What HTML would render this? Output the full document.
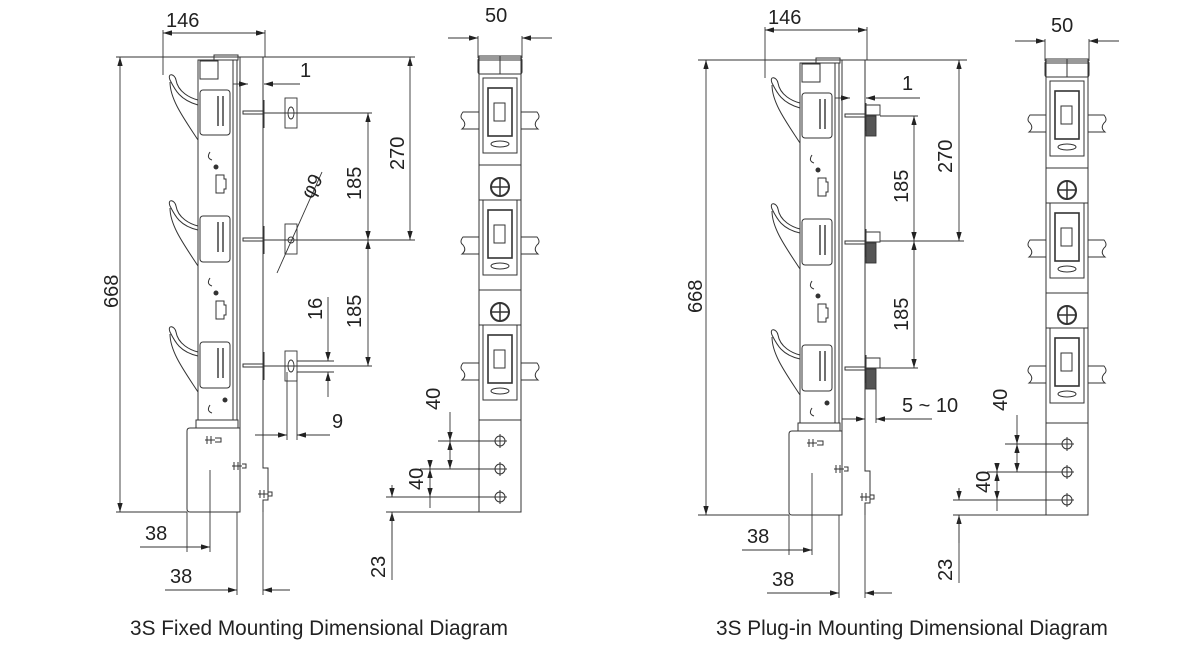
<!DOCTYPE html>
<html><head><meta charset="utf-8"><style>
html,body{margin:0;padding:0;background:#fff;width:1200px;height:654px;overflow:hidden}
svg{display:block}
text{font-family:"Liberation Sans",sans-serif;fill:#222}
</style></head><body>
<svg width="1200" height="654" viewBox="0 0 1200 654" xmlns="http://www.w3.org/2000/svg">
<defs>
<marker id="a" viewBox="0 0 10 6" refX="10" refY="3" markerWidth="10" markerHeight="6" orient="auto-start-reverse"><path d="M0,0 L10,3 L0,6 z" fill="#222"/></marker>
<g id="side" stroke="#333" stroke-width="1" fill="none">
  <rect x="198" y="60" width="39" height="360"/>
  <line x1="233" y1="60" x2="233" y2="420"/>
  <rect x="214" y="55" width="24" height="5"/>
  <polyline points="237,57 263,57 263,468 268,468 268,500 263,500 263,512"/>
  <line x1="240" y1="57" x2="240" y2="512"/>
  <rect x="200" y="61" width="18" height="18"/>
  <rect x="200" y="90" width="30" height="45" rx="3"/>
  <rect x="200" y="216" width="30" height="46" rx="3"/>
  <rect x="200" y="342" width="30" height="46" rx="3"/>
  <g stroke-width="1.4">
   <path d="M218,96 v30 M223,96 v30 M218,222 v30 M223,222 v30 M218,348 v30 M223,348 v30"/>
  </g>
  <path d="M216,175 h8 v4 h2 v10 h-2 v4 h-8 z"/>
  <path d="M216,301 h8 v4 h2 v10 h-2 v4 h-8 z"/>
  <circle cx="216" cy="167" r="2" fill="#333"/><circle cx="216" cy="293" r="2" fill="#333"/><circle cx="225" cy="400" r="2" fill="#333"/>
  <path d="M210,152 q-4,6 2,8 M210,278 q-4,6 2,8 M210,405 q-4,6 2,8"/>
  <path d="M198,105 C180,100 175,90 170,80 C167,72 175,74 176,80 C178,92 190,98 198,100"/>
  <path d="M170,82 C170,100 185,120 198,140"/>
  <path d="M198,230 C180,226 175,216 170,206 C167,198 175,200 176,206 C178,218 190,224 198,226"/>
  <path d="M170,208 C170,226 185,246 198,266"/>
  <path d="M198,356 C180,352 175,342 170,332 C167,324 175,326 176,332 C178,344 190,350 198,352"/>
  <path d="M170,334 C170,352 185,372 198,392"/>
  <path d="M190,428 h50 v84 h-50 q-3,0 -3,-3 v-78 q0,-3 3,-3 z"/>
  <rect x="196" y="420" width="42" height="8"/>
  <path d="M205,440 h10 M207,436 v8 M211,436 v8 M215,438 h6 v4 h-6"/>
  <path d="M232,466 h10 M234,462 v8 M238,462 v8 M242,464 h4 v4 h-4"/>
  <path d="M258,494 h10 M260,490 v8 M264,490 v8 M268,492 h4 v4 h-4"/>
  <rect x="243" y="111" width="20" height="3"/>
  <rect x="243" y="238" width="20" height="3"/>
  <rect x="243" y="364" width="20" height="3"/>
  <line x1="264" y1="100" x2="264" y2="128"/><line x1="264" y1="226" x2="264" y2="254"/><line x1="264" y1="352" x2="264" y2="380"/>
</g>
<g id="front" stroke="#333" stroke-width="1" fill="none">
  <rect x="479" y="60" width="42" height="452"/>
  <path d="M479,60 v-4 h42 v4 M500,56 v18"/>
  <rect x="478" y="58" width="44" height="16" rx="2"/>
  <rect x="483" y="78" width="34" height="75"/><rect x="488" y="88" width="24" height="48" stroke-width="1.6"/><rect x="494" y="103" width="11" height="18"/>
  <rect x="483" y="200" width="34" height="75"/><rect x="488" y="210" width="24" height="48" stroke-width="1.6"/><rect x="494" y="225" width="11" height="18"/>
  <rect x="483" y="325" width="34" height="75"/><rect x="488" y="335" width="24" height="48" stroke-width="1.6"/><rect x="494" y="350" width="11" height="18"/>
  <ellipse cx="500" cy="144" rx="9" ry="3"/><ellipse cx="500" cy="266" rx="9" ry="3"/><ellipse cx="500" cy="391" rx="9" ry="3"/>
  <line x1="479" y1="165" x2="521" y2="165"/><line x1="479" y1="200" x2="521" y2="200"/>
  <line x1="479" y1="290" x2="521" y2="290"/><line x1="479" y1="325" x2="521" y2="325"/>
  <circle cx="500" cy="187" r="9" stroke-width="2"/><path d="M500,179 v16 M492,187 h16" stroke-width="1.5"/>
  <circle cx="500" cy="312" r="9" stroke-width="2"/><path d="M500,304 v16 M492,312 h16" stroke-width="1.5"/>
  <path d="M479,112 h-16 q-4,5 0,8 q4,5 -1,9 h17"/><path d="M521,112 h16 q4,5 0,8 q-4,5 1,9 h-17"/>
  <path d="M479,237 h-16 q-4,5 0,8 q4,5 -1,9 h17"/><path d="M521,237 h16 q4,5 0,8 q-4,5 1,9 h-17"/>
  <path d="M479,363 h-16 q-4,5 0,8 q4,5 -1,9 h17"/><path d="M521,363 h16 q4,5 0,8 q-4,5 1,9 h-17"/>
  <circle cx="500" cy="441" r="5"/><circle cx="500" cy="469" r="5"/><circle cx="500" cy="497" r="5"/>
  <path d="M493,441 h14 M500,434 v14 M493,469 h14 M500,462 v14 M493,497 h14 M500,490 v14"/>
  <line x1="479" y1="420" x2="521" y2="420"/>
</g>
<g id="fdim" stroke="#333" stroke-width="0.9" fill="none">
  <line x1="478" y1="36" x2="478" y2="58"/><line x1="522" y1="36" x2="522" y2="58"/>
  <line x1="448" y1="38" x2="478" y2="38" marker-end="url(#a)"/><line x1="552" y1="38" x2="522" y2="38" marker-end="url(#a)"/>
  <line x1="438" y1="441" x2="495" y2="441"/><line x1="420" y1="469" x2="495" y2="469"/><line x1="386" y1="497" x2="495" y2="497"/><line x1="386" y1="512" x2="479" y2="512"/>
  <line x1="450" y1="412" x2="450" y2="441" marker-end="url(#a)"/><line x1="450" y1="441" x2="450" y2="469" marker-start="url(#a)" marker-end="url(#a)"/>
  <line x1="430" y1="460" x2="430" y2="469" marker-end="url(#a)"/><line x1="430" y1="469" x2="430" y2="497" marker-start="url(#a)" marker-end="url(#a)"/><line x1="430" y1="497" x2="430" y2="508"/>
  <line x1="392" y1="485" x2="392" y2="497" marker-end="url(#a)"/><line x1="392" y1="540" x2="392" y2="512" marker-end="url(#a)"/><line x1="392" y1="512" x2="392" y2="580"/>
</g>
</defs>

<use href="#side"/>
<use href="#front"/>
<use href="#fdim"/>
<g stroke="#333" stroke-width="0.9" fill="none">
  <line x1="163" y1="30" x2="163" y2="75"/><line x1="265" y1="30" x2="265" y2="57"/>
  <line x1="163" y1="33" x2="265" y2="33" marker-start="url(#a)" marker-end="url(#a)"/>
  <line x1="116" y1="57" x2="415" y2="57"/><line x1="116" y1="512" x2="187" y2="512"/>
  <line x1="120" y1="57" x2="120" y2="512" marker-start="url(#a)" marker-end="url(#a)"/>
  <line x1="233" y1="84" x2="248" y2="84" marker-end="url(#a)"/><line x1="282" y1="84" x2="264" y2="84" marker-end="url(#a)"/><line x1="282" y1="84" x2="300" y2="84"/>
  <rect x="285" y="98" width="12" height="30"/><ellipse cx="291" cy="113" rx="3" ry="6"/>
  <rect x="285" y="224" width="12" height="30"/><circle cx="291" cy="240" r="3"/>
  <rect x="285" y="351" width="12" height="30"/><ellipse cx="291" cy="366" rx="3" ry="6"/>
  <line x1="264" y1="113" x2="372" y2="113"/><line x1="264" y1="240" x2="415" y2="240"/><line x1="264" y1="366" x2="372" y2="366"/>
  <line x1="410" y1="57" x2="410" y2="240" marker-start="url(#a)" marker-end="url(#a)"/>
  <line x1="368" y1="113" x2="368" y2="240" marker-start="url(#a)" marker-end="url(#a)"/>
  <line x1="368" y1="240" x2="368" y2="366" marker-start="url(#a)" marker-end="url(#a)"/>
  <line x1="277" y1="273" x2="322" y2="172"/>
  <line x1="297" y1="361" x2="334" y2="361"/><line x1="297" y1="372" x2="334" y2="372"/>
  <line x1="328" y1="297" x2="328" y2="361" marker-end="url(#a)"/><line x1="328" y1="397" x2="328" y2="372" marker-end="url(#a)"/>
  <line x1="287" y1="372" x2="287" y2="440"/><line x1="297" y1="372" x2="297" y2="440"/>
  <line x1="255" y1="435" x2="287" y2="435" marker-end="url(#a)"/><line x1="330" y1="435" x2="297" y2="435" marker-end="url(#a)"/>
  <line x1="187" y1="512" x2="187" y2="552"/><line x1="210" y1="470" x2="210" y2="552"/><line x1="237" y1="512" x2="237" y2="595"/><line x1="263" y1="512" x2="263" y2="595"/>
  <line x1="140" y1="547" x2="187" y2="547"/><line x1="187" y1="547" x2="210" y2="547" marker-end="url(#a)"/>
  <line x1="165" y1="590" x2="237" y2="590" marker-end="url(#a)"/><line x1="290" y1="590" x2="263" y2="590" marker-end="url(#a)"/>
</g>
<g font-size="20">
  <text x="166" y="27">146</text>
  <text x="300" y="77">1</text>
  <text transform="translate(118,308) rotate(-90)">668</text>
  <text transform="translate(404,170) rotate(-90)">270</text>
  <text transform="translate(361,200) rotate(-90)">185</text>
  <text transform="translate(361,328) rotate(-90)">185</text>
  <text transform="translate(322,320) rotate(-90)">16</text>
  <text transform="translate(312,200) rotate(-62)">φ9</text>
  <text x="332" y="428">9</text>
  <text transform="translate(440,410) rotate(-90)">40</text>
  <text transform="translate(423,490) rotate(-90)">40</text>
  <text transform="translate(385,578) rotate(-90)">23</text>
  <text x="145" y="540">38</text>
  <text x="170" y="583">38</text>
  <text x="485" y="22">50</text>
  <text x="130" y="635" font-size="20.8">3S Fixed Mounting Dimensional Diagram</text>
</g>

<g transform="translate(602,3)">
  <use href="#side"/>
  <g stroke="#333" stroke-width="0.9" fill="none">
   <path d="M264,102 h14 v10 h-14"/><rect x="264" y="113" width="10" height="20" fill="#555"/>
   <path d="M264,229 h14 v10 h-14"/><rect x="264" y="240" width="10" height="20" fill="#555"/>
   <path d="M264,355 h14 v10 h-14"/><rect x="264" y="366" width="10" height="20" fill="#555"/>
   <line x1="163" y1="24" x2="163" y2="75"/><line x1="265" y1="24" x2="265" y2="57"/>
   <line x1="163" y1="27" x2="265" y2="27" marker-start="url(#a)" marker-end="url(#a)"/>
   <line x1="96" y1="57" x2="365" y2="57"/><line x1="96" y1="512" x2="187" y2="512"/>
   <line x1="104" y1="57" x2="104" y2="512" marker-start="url(#a)" marker-end="url(#a)"/>
   <line x1="233" y1="95" x2="248" y2="95" marker-end="url(#a)"/><line x1="282" y1="95" x2="264" y2="95" marker-end="url(#a)"/><line x1="282" y1="95" x2="318" y2="95"/>
   <line x1="278" y1="113" x2="316" y2="113"/><line x1="278" y1="238" x2="362" y2="238"/><line x1="278" y1="365" x2="316" y2="365"/>
   <line x1="357" y1="57" x2="357" y2="238" marker-start="url(#a)" marker-end="url(#a)"/>
   <line x1="312" y1="113" x2="312" y2="238" marker-start="url(#a)" marker-end="url(#a)"/>
   <line x1="312" y1="238" x2="312" y2="365" marker-start="url(#a)" marker-end="url(#a)"/>
   <line x1="274" y1="386" x2="274" y2="420"/>
   <line x1="240" y1="416" x2="263" y2="416" marker-end="url(#a)"/><line x1="300" y1="416" x2="274" y2="416" marker-end="url(#a)"/><line x1="300" y1="416" x2="330" y2="416"/>
   <line x1="187" y1="512" x2="187" y2="552"/><line x1="210" y1="470" x2="210" y2="552"/><line x1="237" y1="512" x2="237" y2="595"/><line x1="263" y1="512" x2="263" y2="595"/>
   <line x1="140" y1="547" x2="187" y2="547"/><line x1="187" y1="547" x2="210" y2="547" marker-end="url(#a)"/>
   <line x1="165" y1="590" x2="237" y2="590" marker-end="url(#a)"/><line x1="290" y1="590" x2="263" y2="590" marker-end="url(#a)"/>
  </g>
  <g font-size="20">
   <text x="166" y="21">146</text>
   <text x="300" y="87">1</text>
   <text transform="translate(100,310) rotate(-90)">668</text>
   <text transform="translate(350,170) rotate(-90)">270</text>
   <text transform="translate(306,200) rotate(-90)">185</text>
   <text transform="translate(306,328) rotate(-90)">185</text>
   <text x="300" y="409">5 ~ 10</text>
   <text x="145" y="540">38</text>
   <text x="170" y="583">38</text>
  </g>
</g>
<g transform="translate(567,3)">
  <use href="#front"/>
  <use href="#fdim"/>
  <g font-size="20">
   <text x="484" y="29">50</text>
   <text transform="translate(440,408) rotate(-90)">40</text>
   <text transform="translate(423,490) rotate(-90)">40</text>
   <text transform="translate(385,578) rotate(-90)">23</text>
  </g>
</g>
<text x="716" y="635" font-size="20.8">3S Plug-in Mounting Dimensional Diagram</text>
</svg>
</body></html>
